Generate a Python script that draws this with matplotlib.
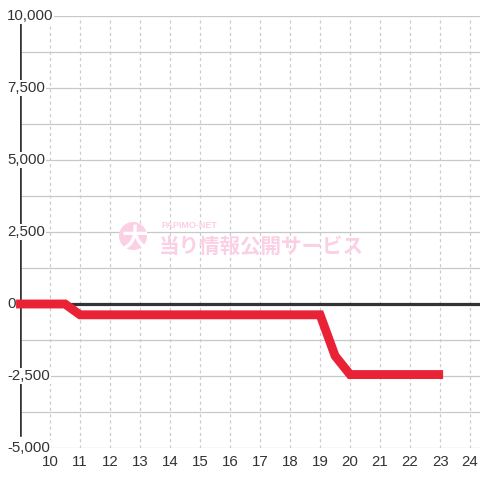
import matplotlib
matplotlib.use("Agg")
import matplotlib.pyplot as plt

hours = [8.87, 10.5, 11.0, 19.0, 19.5, 20.0, 23.1]
values = [0, 0, -375, -375, -1800, -2450, -2450]
y_ticks = [-5000, -2500, 0, 2500, 5000, 7500, 10000]
y_grid = [-5000, -3750, -2500, -1250, 0, 1250, 2500, 3750, 5000, 6250, 7500, 8750, 10000]
x_ticks = list(range(10, 25))

plt.rcParams['font.family'] = ['Liberation Sans', 'DejaVu Sans']

fig = plt.figure(figsize=(4.8, 4.8), dpi=100)
fig.patch.set_facecolor('white')
ax = fig.add_axes([20/480, 32/480, 460/480, 432/480])
ax.set_facecolor('white')
ax.set_xlim(9, 24.33)
ax.set_ylim(-5000, 10000)
for s in ax.spines.values():
    s.set_visible(False)

for g in y_grid:
    ax.axhline(g, color='#c8c8c8', lw=0.9, zorder=1)
for xt in x_ticks:
    ax.axvline(xt, color='#cccccc', lw=0.9, ls=(0, (2.5, 2.5)), zorder=1)

ax.axhline(0, color='#333333', lw=2.3, zorder=3)
ax.axvline(9, ymin=0.03, ymax=0.981, color='#333333', lw=2.6, zorder=3)

# watermark
pink = '#fbcfe4'
fig.patches.append(plt.Circle((133/480, 1-236/480), 14/480, transform=fig.transFigure,
                              facecolor=pink, edgecolor='none', zorder=2, figure=fig))
fig.text(135/480, 1-239/480, '大', fontsize=19, color='white', fontweight='bold',
         family=['Noto Sans CJK JP'], ha='center', va='center', zorder=3)
fig.text(161/480, 1-226/480, 'PAPIMO-NET', fontsize=6.5, color=pink,
         fontweight='bold', ha='left', va='center')
fig.text(159/480, 1-246/480, '当り情報公開サービス', fontsize=14.8, color=pink,
         fontweight='bold', family=['Noto Sans CJK JP'], ha='left', va='center')

ax.plot(hours, values, color='#ea2236', lw=6.4, solid_joinstyle='miter',
        solid_capstyle='butt', zorder=4, clip_on=False)

ax.set_yticks(y_ticks)
ax.set_xticks(x_ticks)
ax.tick_params(axis='both', length=0, labelsize=10.8, colors='#333333')
ax.tick_params(axis='x', pad=5)
ax.grid(False)
ax.set_yticklabels([])
for v in y_ticks:
    ax.text(-0.028, v, f"{v:,}", transform=ax.get_yaxis_transform(),
            ha='left', va='center', fontsize=10.8, color='#333333', zorder=6,
            bbox=dict(facecolor='white', edgecolor='none', pad=0.5))

fig.savefig('out.png', dpi=100)
